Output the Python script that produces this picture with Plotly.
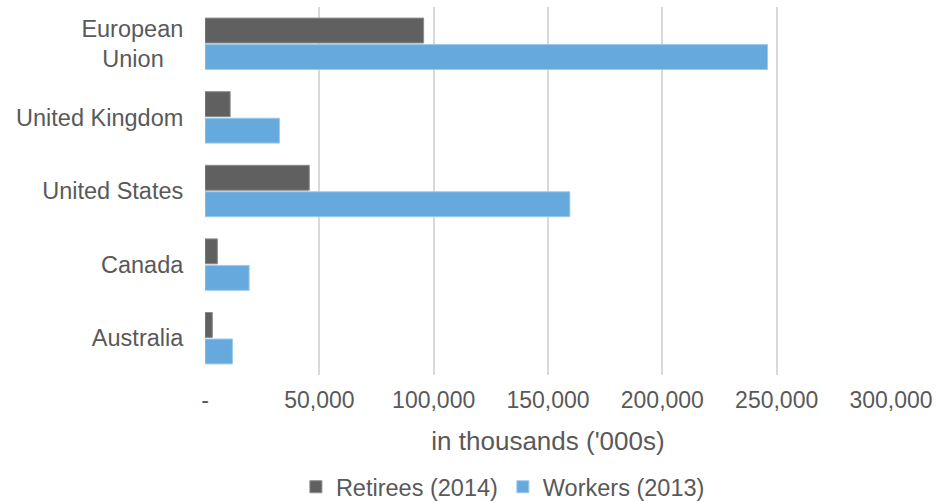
import plotly.graph_objects as go

categories = ["European Union", "United Kingdom", "United States", "Canada", "Australia"]
category_labels = ["European<br>Union\u00a0\u00a0\u00a0", "United Kingdom", "United States", "Canada", "Australia"]
retirees_2014 = [95600, 11000, 45600, 5400, 3200]
workers_2013 = [246000, 32550, 159550, 19300, 12000]
x_tick_vals = [0, 50000, 100000, 150000, 200000, 250000, 300000]
x_tick_text = ["-", "50,000", "100,000", "150,000", "200,000", "250,000", "300,000"]

TEXT = "#595959"
FONT = "Liberation Sans, Arial, sans-serif"

fig = go.Figure()
fig.add_trace(go.Bar(
    y=categories, x=retirees_2014, orientation="h", name="Retirees (2014)",
    marker=dict(color="#606060", line=dict(color="#8c8c8c", width=1)),
))
fig.add_trace(go.Bar(
    y=categories, x=workers_2013, orientation="h", name="Workers (2013)",
    marker=dict(color="#66a9dd", line=dict(color="#9ccaee", width=1)),
))

fig.update_layout(
    width=940, height=501,
    margin=dict(l=205, r=47, t=7, b=126),
    paper_bgcolor="white", plot_bgcolor="white",
    barmode="group", bargap=0.28, bargroupgap=0.06,
    font=dict(family=FONT, color=TEXT, size=23),
    showlegend=True,
    legend=dict(
        orientation="h", xref="container", yref="container",
        x=0.535, xanchor="center", y=0.028, yanchor="middle",
        font=dict(size=23.5, color=TEXT), itemwidth=30,
        traceorder="normal",
    ),
    xaxis=dict(
        range=[0, 300000], tickvals=x_tick_vals, ticktext=x_tick_text,
        showgrid=True, gridcolor="#d9d9d9", gridwidth=1.5,
        zeroline=False, showline=False,
        ticks="outside", ticklen=0, ticklabelstandoff=4,
        tickfont=dict(size=23, color=TEXT),
        title=dict(text="in thousands ('000s)", font=dict(size=26, color=TEXT), standoff=20),
        fixedrange=True,
    ),
    yaxis=dict(
        type="category", autorange="reversed",
        tickvals=categories, ticktext=category_labels,
        showgrid=False, zeroline=False, showline=False,
        ticks="outside", ticklen=0, ticklabelstandoff=16,
        tickfont=dict(size=23.5, color=TEXT),
        fixedrange=True,
    ),
)

fig.write_html("out.html")
